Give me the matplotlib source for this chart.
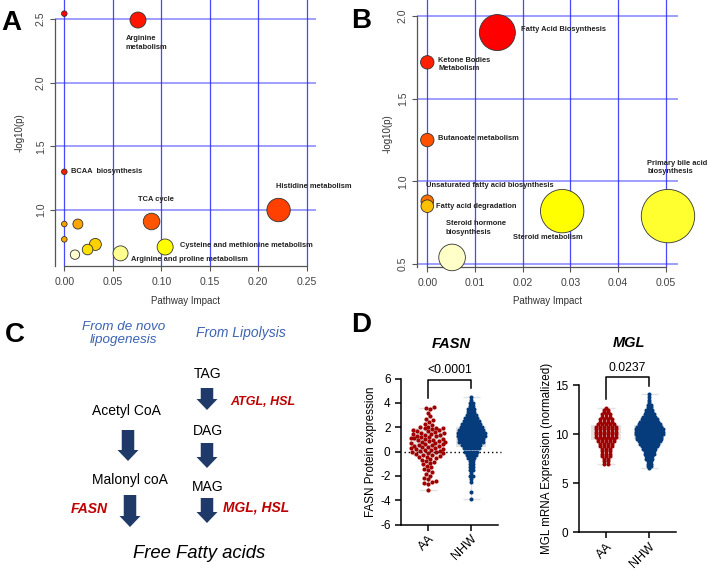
import matplotlib
matplotlib.use('Agg')
import matplotlib.pyplot as plt
from matplotlib.patches import FancyArrow
import numpy as np
import seaborn as sns

plt.rcParams['font.family'] = ['Liberation Sans', 'DejaVu Sans']
plt.rcParams['axes.unicode_minus'] = False

# ---- panel A: pathway analysis ----
a_names = ['', 'Arginine\nmetabolism', 'BCAA  biosynthesis', 'Histidine metabolism', 'TCA cycle',
           '', '', '', '', '', '', 'Arginine and proline metabolism', 'Cysteine and methionine metabolism']
a_impact = [0.0, 0.076, 0.0, 0.221, 0.090, 0.0, 0.014, 0.0, 0.032, 0.024, 0.011, 0.058, 0.104]
a_logp = [2.54, 2.49, 1.30, 1.00, 0.91, 0.89, 0.89, 0.77, 0.73, 0.69, 0.65, 0.66, 0.71]
a_radius = [2.8, 8.0, 2.8, 11.7, 8.3, 2.8, 5.0, 2.8, 6.0, 5.3, 4.7, 7.5, 8.0]
a_colors = ['#ff0000', '#ff1500', '#ff1a00', '#ff4000', '#ff5500', '#ffa000', '#ffa500',
            '#ffa800', '#ffd000', '#ffe000', '#ffffd0', '#ffff90', '#ffff00']

# ---- panel B ----
b_names = ['Fatty Acid Biosynthesis', 'Ketone Bodies\nMetabolism', 'Butanoate metabolism',
           'Unsaturated fatty acid biosynthesis', 'Fatty acid degradation', 'Steroid metabolism',
           'Primary bile acid\nbiosynthesis', 'Steroid hormone\nbiosynthesis']
b_impact = [0.0147, 0.0, 0.0, 0.0, 0.0, 0.0283, 0.0505, 0.0052]
b_logp = [1.90, 1.72, 1.25, 0.88, 0.85, 0.82, 0.79, 0.54]
b_radius = [18.0, 6.7, 6.7, 6.3, 6.3, 21.7, 26.7, 13.3]
b_colors = ['#ff0000', '#ff2000', '#ff5000', '#ff7000', '#ffc000', '#ffff00', '#ffff30', '#ffffc8']

# label offsets (pixels) and alignment
a_label_pos = {1: (-12, -23, 'left'), 2: (6.4, 0, 'left'), 3: (-3, 24, 'left'), 4: (4, 21.5, 'center'),
               11: (10.4, -6, 'left'), 12: (14.7, 1.5, 'left')}
b_label_pos = {0: (23.3, 3.2, 'left'), 1: (11, -2.2, 'left'), 2: (11, 1.7, 'left'), 3: (-1.6, 16, 'left'),
               4: (8.4, 0, 'left'), 5: (-14.5, -26.3, 'center'), 6: (-20.8, 48.5, 'left'),
               7: (-6.4, 29.5, 'left')}

# ---- panel D ----
groups = ['AA', 'NHW']
fasn_aa = [3.62, 3.55, 3.5, 3.2, 2.9, 2.7, 2.55, 2.45, 2.3, 2.2, 2.05, 2.0, 1.97, 1.93, 1.9,
           1.82, 1.78, 1.75, 1.7, 1.66, 1.6, 1.55, 1.5, 1.47, 1.42, 1.38, 1.33, 1.3, 1.25, 1.2,
           1.17, 1.13, 1.08, 1.05, 1.0, 0.97, 0.93, 0.9, 0.85, 0.8, 0.77, 0.72, 0.68, 0.64,
           0.6, 0.55, 0.52, 0.48, 0.43, 0.4, 0.35, 0.3, 0.26, 0.22, 0.18, 0.14, 0.1, 0.05,
           0.02, -0.02, -0.07, -0.1, -0.15, -0.2, -0.26, -0.3, -0.35, -0.42, -0.48, -0.53,
           -0.6, -0.68, -0.77, -0.85, -0.95, -1.05, -1.2, -1.3, -1.45, -1.55, -1.7, -1.85,
           -2.0, -2.2, -2.3, -2.45, -2.5, -2.6, -2.7, -3.2]
fasn_nhw_levels = [4.5, 4.25, 4.0, 3.75, 3.5, 3.25, 3.0, 2.75, 2.5, 2.25, 2.0, 1.75, 1.5, 1.25, 1.0,
                   0.75, 0.5, 0.25, 0.0, -0.25, -0.5, -0.75, -1.0, -1.25, -1.5, -1.75, -2.0, -2.25,
                   -2.5, -3.3, -3.9]
fasn_nhw_counts = [1, 1, 2, 2, 3, 3, 4, 5, 6, 7, 8, 9, 10, 10, 9, 9, 7, 6, 5, 4, 3, 2, 2, 2, 2, 1,
                   2, 1, 1, 1, 1]
mgl_aa_levels = [12.7, 12.5, 12.25, 12.0, 11.75, 11.5, 11.25, 11.0, 10.75, 10.5, 10.25, 10.0, 9.75,
                 9.5, 9.25, 9.0, 8.75, 8.5, 8.25, 8.0, 7.75, 7.5, 7.25, 7.0]
mgl_aa_counts = [1, 2, 2, 3, 3, 4, 4, 5, 6, 6, 6, 6, 6, 5, 5, 4, 4, 3, 3, 3, 3, 2, 2, 2]
mgl_nhw_levels = [14.1, 13.75, 13.5, 13.25, 13.0, 12.75, 12.5, 12.25, 12.0, 11.75, 11.5, 11.25, 11.0,
                  10.75, 10.5, 10.25, 10.0, 9.75, 9.5, 9.25, 9.0, 8.75, 8.5, 8.25, 8.0, 7.75, 7.5,
                  7.25, 7.0, 6.75, 6.5]
mgl_nhw_counts = [1, 1, 1, 1, 2, 2, 3, 3, 4, 5, 6, 7, 8, 9, 10, 10, 10, 9, 9, 8, 7, 6, 5, 4, 4, 3, 3,
                  2, 2, 2, 1]
fasn_box_lo = [-0.4, 0.35]
fasn_box_hi = [1.95, 2.05]
fasn_min = [-3.2, -3.9]
fasn_max = [3.6, 4.5]
mgl_box_lo = [9.4, 9.5]
mgl_box_hi = [10.9, 10.9]
mgl_min = [7.0, 6.5]
mgl_max = [12.7, 14.1]
fasn_p = '<0.0001'
mgl_p = '0.0237'

fig = plt.figure(figsize=(7.08, 5.70), dpi=100)
W, H = 708, 570
red = '#a00000'
blue = '#063c7b'


def px_axes(x0, x1, y0, y1):
    return fig.add_axes([x0 / W, 1 - y1 / H, (x1 - x0) / W, (y1 - y0) / H])


def bubble_panel(ax, impact, logp, radius, colors, names, label_pos, xlim, ylim, xticks, yticks, ypad):
    ax.set_xlim(xlim)
    ax.set_ylim(ylim)
    for t in xticks:
        ax.axvline(t, color='#1a1aff', lw=0.9, alpha=0.8, zorder=1)
    for t in yticks:
        ax.axhline(t, color='#3030ff', lw=1.2, alpha=0.55, zorder=1)
    sizes = [(2 * r * 0.72) ** 2 for r in radius]
    ax.scatter(impact, logp, s=sizes, c=colors, edgecolors='#333333', linewidths=0.6, zorder=3,
               clip_on=False)
    for i, (dx, dy, ha) in label_pos.items():
        ax.annotate(names[i], (impact[i], logp[i]), xytext=(dx, dy), textcoords='offset pixels',
                    ha=ha, va='center', fontsize=5.4, fontweight='bold', color='#222222',
                    linespacing=1.25, zorder=4, annotation_clip=False)
    for s in ['top', 'right']:
        ax.spines[s].set_visible(False)
    ax.spines['left'].set_bounds(ylim[0], yticks[-1])
    ax.spines['bottom'].set_bounds(xticks[0], xticks[-1])
    for s in ['left', 'bottom']:
        ax.spines[s].set_color('#555555')
        ax.spines[s].set_linewidth(0.9)
    ax.set_xticks(xticks)
    ax.set_xticklabels(['%.2f' % t for t in xticks])
    ax.set_yticks(yticks)
    ax.set_yticklabels(['%.1f' % t for t in yticks], rotation=90, va='center')
    ax.tick_params(colors='#555555', labelcolor='#444444', labelsize=7.6, length=3.6, width=0.8)
    ax.tick_params(axis='x', pad=4.5)
    ax.tick_params(axis='y', pad=3)
    ax.set_xlabel('Pathway Impact', fontsize=7, color='#333333', labelpad=6)
    ax.set_ylabel('-log10(p)', fontsize=7, color='#333333', labelpad=ypad)
    ax.patch.set_alpha(0)


ax_a = px_axes(55, 316, 0, 266)
bubble_panel(ax_a, a_impact, a_logp, a_radius, a_colors, a_names, a_label_pos,
             (-0.0096, 0.2596), (0.561, 2.647), [0.0, 0.05, 0.10, 0.15, 0.20, 0.25], [1.0, 1.5, 2.0, 2.5], 8)

ax_b = px_axes(417, 678, 0, 266.7)
bubble_panel(ax_b, b_impact, b_logp, b_radius, b_colors, b_names, b_label_pos,
             (-0.00216, 0.0526), (0.484, 2.097), [0.0, 0.01, 0.02, 0.03, 0.04, 0.05], [0.5, 1.0, 1.5, 2.0], 3.5)


def dot_rows(ax, center, levels, counts, step, color):
    # GraphPad-style scatter: points sharing a y bin are spread side by side
    xs, ys = [], []
    for lv, n in zip(levels, counts):
        xs.extend(center + (np.arange(n) - (n - 1) / 2) * step)
        ys.extend([lv] * n)
    ax.scatter(xs, ys, s=8.5, color=color, lw=0, zorder=3)


def style_d(ax, box_lo, box_hi, vmin, vmax, ylim, yticks, ylabel, bracket, ptext, pbase):
    xs = [0, 1]
    ax.bar(xs, np.array(box_hi) - np.array(box_lo), bottom=box_lo, width=0.68, color='#e3e3e3', zorder=1)
    ax.vlines(xs, vmin, vmax, color='#e3e3e3', lw=1, zorder=1)
    ax.hlines(vmin + vmax, [-0.2, 0.8, -0.2, 0.8], [0.2, 1.2, 0.2, 1.2], color='#e3e3e3', lw=1, zorder=1)
    ax.set_xlim(-0.63, 1.63)
    ax.set_ylim(ylim)
    ax.set_yticks(yticks)
    ax.set_xticks(xs)
    ax.set_xticklabels(groups, rotation=45, ha='right', rotation_mode='anchor', fontsize=9)
    ax.tick_params(axis='y', labelsize=8.5, length=4, width=1.1)
    ax.tick_params(axis='x', length=4, width=1.1, pad=2)
    for s in ['top', 'right']:
        ax.spines[s].set_visible(False)
    for s in ['left', 'bottom']:
        ax.spines[s].set_linewidth(1.1)
    ax.set_ylabel(ylabel, fontsize=8.4, labelpad=2)
    lo_l, lo_r, top = bracket
    ax.plot([0, 0, 1, 1], [lo_l, top, top, lo_r], color='black', lw=1.1, clip_on=False)
    ax.text(0.5, pbase, ptext, ha='center', va='baseline', fontsize=8.7)
    ax.patch.set_alpha(0)


ax_d1 = px_axes(401, 498.2, 378.5, 524.5)
sns.swarmplot(x=['AA'] * len(fasn_aa), y=fasn_aa, color=red, size=3, linewidth=0, order=groups,
              ax=ax_d1, zorder=3)
dot_rows(ax_d1, 1, fasn_nhw_levels, fasn_nhw_counts, 0.07, blue)
style_d(ax_d1, fasn_box_lo, fasn_box_hi, fasn_min, fasn_max, (-6, 6), [-6, -4, -2, 0, 2, 4, 6],
        'FASN Protein expression', (4.4, 5.2, 5.88), fasn_p, 6.48)
ax_d1.plot([-0.56, 1.7], [0, 0], ls=(0, (1, 2)), color='black', lw=1, clip_on=False, zorder=2)

ax_d2 = px_axes(579, 676.2, 385, 532.3)
dot_rows(ax_d2, 0, mgl_aa_levels, mgl_aa_counts, 0.095, red)
dot_rows(ax_d2, 1, mgl_nhw_levels, mgl_nhw_counts, 0.07, blue)
style_d(ax_d2, mgl_box_lo, mgl_box_hi, mgl_min, mgl_max, (0, 15), [0, 5, 10, 15],
        'MGL mRNA Expression (normalized)', (13.54, 14.93, 15.85), mgl_p, 16.43)

# ---- overlay: panel letters, panel C diagram, titles ----
ov = fig.add_axes([0, 0, 1, 1])
ov.set_xlim(0, W)
ov.set_ylim(H, 0)
ov.axis('off')
for lx, ly, letter in [(11.7, 30, 'A'), (361.5, 28, 'B'), (15, 342, 'C'), (361, 332, 'D')]:
    ov.text(lx, ly, letter, fontsize=20, fontweight='bold', ha='center', va='baseline')

blue_txt = '#3d63b3'
red_txt = '#c00000'
ov.text(124, 330, 'From de novo', fontsize=9.7, style='italic', color=blue_txt, ha='center', va='baseline')
ov.text(124, 343.5, 'lipogenesis', fontsize=9.7, style='italic', color=blue_txt, ha='center', va='baseline')
ov.text(241, 336.7, 'From Lipolysis', fontsize=10, style='italic', color=blue_txt, ha='center', va='baseline')
for tx, ty, label in [(207.5, 378.3, 'TAG'), (126, 415, 'Acetyl CoA'), (208, 435, 'DAG'),
                      (130, 484.3, 'Malonyl coA'), (207.5, 490.7, 'MAG')]:
    ov.text(tx, ty, label, fontsize=10, ha='center', va='baseline')
ov.text(263, 405.3, 'ATGL, HSL', fontsize=9, style='italic', fontweight='bold', color=red_txt,
        ha='center', va='baseline')
ov.text(89, 513.3, 'FASN', fontsize=10, style='italic', fontweight='bold', color=red_txt,
        ha='center', va='baseline')
ov.text(256, 511.7, 'MGL, HSL', fontsize=10, style='italic', fontweight='bold', color=red_txt,
        ha='center', va='baseline')
ov.text(199, 558.3, 'Free Fatty acids', fontsize=13.3, style='italic', ha='center', va='baseline')

arrow_color = '#1f3a68'
for axx, ay0, ay1 in [(207, 388, 410), (207, 443, 468), (207, 498, 523), (128, 430, 461), (130, 495, 527)]:
    ov.add_patch(FancyArrow(axx, ay0, 0, ay1 - ay0, width=12.5, head_width=21, head_length=11,
                            length_includes_head=True, color=arrow_color, lw=0))

ov.text(451, 348.3, 'FASN', fontsize=10.5, style='italic', fontweight='bold', ha='center', va='baseline')
ov.text(629, 346.7, 'MGL', fontsize=10.5, style='italic', fontweight='bold', ha='center', va='baseline')

fig.savefig('out.png', dpi=100)
